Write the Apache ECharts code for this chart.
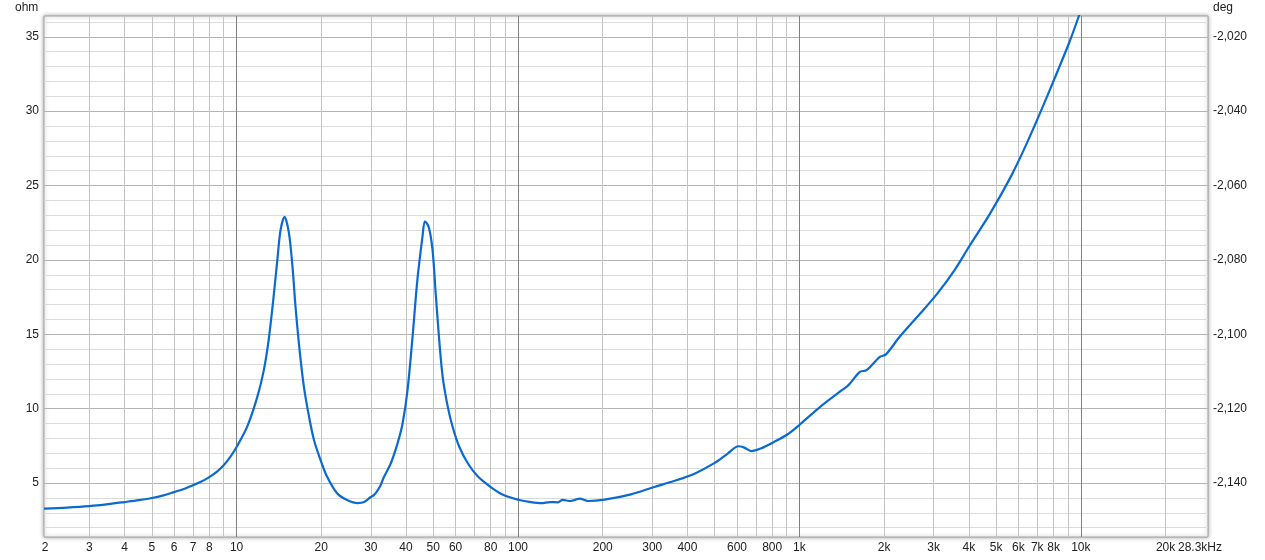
<!DOCTYPE html>
<html><head><meta charset="utf-8">
<script src="https://cdn.jsdelivr.net/npm/echarts@6/dist/echarts.min.js"></script>
<style>html,body{margin:0;padding:0;background:#fff}#c{width:1265px;height:560px}</style>
</head><body><div id="c"></div><script>
// Impedance magnitude curve (frequency in Hz, impedance in ohm)
const freqHz = [2.069,2.5,3,3.5,4,4.5,5,5.5,6,6.5,7,7.5,8,8.5,9,9.5,10,10.9,11.85,12.5,13.0,13.5,13.96,14.33,14.8,15.35,15.8,16.2,16.7,17.35,18.1,18.85,19.9,21.0,22.8,24.8,26.9,28.4,29.97,30.8,31.7,32.5,33.4,35.3,37.3,38.9,40.5,42.2,43.9,45.8,46.7,48.2,49.7,51.0,52.5,54.0,56.3,58.6,61.9,66.4,71.9,80.0,89.3,101,111,121,130,138.6,144,153.7,166,177,203,252,305,358,424,500,556,607,637,674,728,812,909,1006,1185,1415,1494,1640,1732,1931,2030,2271,2691,3094,3559,4009,4786,5640,6377,7210,8147,9086,9840,10420];
const impedanceOhm = [3.28,3.35,3.45,3.58,3.72,3.85,3.99,4.17,4.39,4.6,4.85,5.1,5.40,5.75,6.19,6.75,7.42,8.77,10.79,12.59,14.61,17.3,20.0,22.0,22.9,21.8,19.55,16.85,14.16,11.46,9.44,7.88,6.53,5.40,4.29,3.84,3.65,3.72,4.06,4.2,4.51,4.85,5.40,6.31,7.65,9.00,11.24,14.83,18.66,21.6,22.6,22.2,20.67,17.75,14.6,12.14,10.12,8.77,7.42,6.31,5.45,4.73,4.17,3.86,3.72,3.65,3.72,3.70,3.86,3.79,3.95,3.79,3.88,4.24,4.73,5.13,5.63,6.35,6.98,7.47,7.38,7.15,7.32,7.76,8.28,8.95,10.12,11.24,11.58,12.47,12.59,13.48,13.65,14.83,16.41,17.75,19.32,20.9,23.2,25.6,27.7,30.0,32.4,34.6,36.4,37.8];

// Axis ranges
const xMin = 2.069, xMax = 28300;
const yMin = 1.37, yMax = 36.4;          // ohm
const degMin = -2154.52, degMax = -2014.4; // deg

// Grid lines
const xMinorLines = [3,4,5,6,7,8,9,20,30,40,50,60,70,80,90,200,300,400,500,600,700,800,900,2000,3000,4000,5000,6000,7000,8000,9000,20000];
const xDecadeLines = [10,100,1000,10000];
const xLabelValues = [2.069,3,4,5,6,7,8,10,20,30,40,50,60,80,100,200,300,400,600,800,1000,2000,3000,4000,5000,6000,7000,8000,10000,20000,28300];
const xLabelTexts = ['2','3','4','5','6','7','8','10','20','30','40','50','60','80','100','200','300','400','600','800','1k','2k','3k','4k','5k','6k','7k','8k','10k','20k','28.3kHz'];
const yMinorLines = [2,3,4,6,7,8,9,11,12,13,14,16,17,18,19,21,22,23,24,26,27,28,29,31,32,33,34,36];
const yMajorLines = [5,10,15,20,25,30,35];

const FONT = '"Liberation Sans", Arial, sans-serif';
const labelOf = v => { const i = xLabelValues.indexOf(v); return i >= 0 ? xLabelTexts[i] : null; };

const mlData = [];
yMinorLines.forEach(v => mlData.push({yAxis: v, lineStyle: {color: '#dcdcdc', width: 1, type: 'solid'}, label: {show: false}}));
yMajorLines.forEach(v => mlData.push({yAxis: v, lineStyle: {color: '#b4b4b4', width: 1, type: 'solid'}, label: {show: false}}));
const allX = Array.from(new Set([...xMinorLines, ...xDecadeLines, ...xLabelValues])).sort((a,b)=>a-b);
allX.forEach(v => {
  const isDec = xDecadeLines.includes(v);
  const isMinor = xMinorLines.includes(v);
  const t = labelOf(v);
  const color = isDec ? '#808080' : (isMinor ? '#c4c4c4' : 'rgba(0,0,0,0)');
  mlData.push({
    xAxis: v,
    lineStyle: {color: color, width: 1, type: 'solid'},
    label: t ? {show: true, position: 'start', formatter: t, distance: 5, color: '#222', fontSize: 12, fontFamily: FONT,
                offset: v === xMax ? [-8, 0] : (v === xMin ? [1, 0] : [0, 0])} : {show: false}
  });
});

const chart = echarts.init(document.getElementById('c'), null, {renderer: 'canvas'});
chart.setOption({
  animation: false,
  backgroundColor: '#fff',
  title: [
    {text: 'ohm', left: 15, top: 2, padding: 0, textStyle: {fontSize: 12, fontWeight: 'normal', color: '#222', fontFamily: FONT}},
    {text: 'deg', left: 1213, top: 2, padding: 0, textStyle: {fontSize: 12, fontWeight: 'normal', color: '#222', fontFamily: FONT}}
  ],
  grid: {left: 44, right: 57, top: 16, bottom: 23, show: true, backgroundColor: '#fff', borderColor: '#a0a0a0', borderWidth: 1,
         shadowColor: 'rgba(0,0,0,0.35)', shadowBlur: 4, containLabel: false},
  xAxis: {type: 'log', logBase: 10, min: xMin, max: xMax,
          axisLine: {show: false}, axisTick: {show: false}, axisLabel: {show: false}, splitLine: {show: false}, minorSplitLine: {show: false}},
  yAxis: [
    {type: 'value', min: yMin, max: yMax, minInterval: 5, maxInterval: 5, position: 'left',
     axisLine: {show: false}, axisTick: {show: false}, splitLine: {show: false},
     axisLabel: {showMinLabel: false, showMaxLabel: false, margin: 5, color: '#222', fontSize: 12, fontFamily: FONT}},
    {type: 'value', min: degMin, max: degMax, minInterval: 20, maxInterval: 20, position: 'right',
     axisLine: {show: false}, axisTick: {show: false}, splitLine: {show: false},
     axisLabel: {showMinLabel: false, showMaxLabel: false, margin: 5, color: '#222', fontSize: 12, fontFamily: FONT,
                 formatter: v => (v < 0 ? '-' : '') + Math.abs(Math.round(v)).toLocaleString('en-US')}}
  ],
  series: [{
    type: 'line', xAxisIndex: 0, yAxisIndex: 0, z: 3,
    data: freqHz.map((f, i) => [f, impedanceOhm[i]]),
    showSymbol: false, symbol: 'none', smooth: 0.3, clip: true,
    lineStyle: {color: '#0a6ad0', width: 2.2},
    markLine: {silent: true, symbol: ['none', 'none'], z: 1, animation: false, precision: 4, data: mlData}
  }]
});
</script></body></html>
